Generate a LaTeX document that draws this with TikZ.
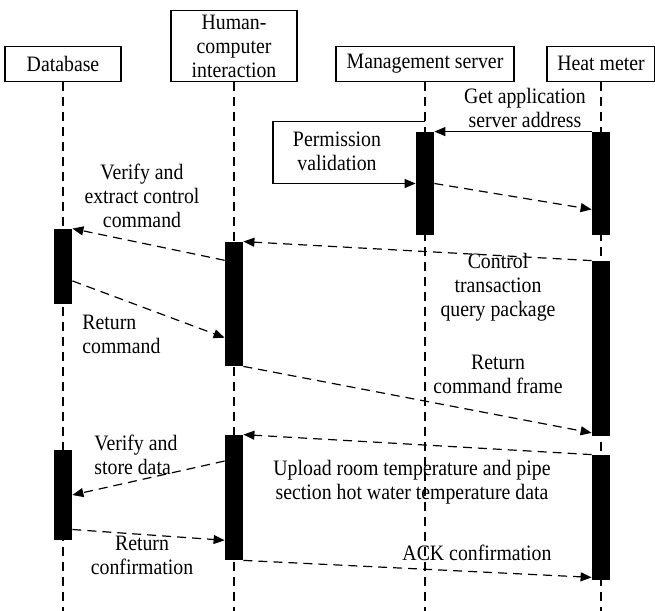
\documentclass[tikz,border=0pt]{standalone}
\usepackage{fontspec}
\setmainfont{Liberation Serif}[FakeStretch=0.9]
\usetikzlibrary{arrows.meta, positioning, calc, fit}

\begin{document}
\begin{tikzpicture}[
    x=0.5pt, y=-0.5pt,
    % ── Node styles ──────────────────────────────────────────────────────
    head/.style={
        draw, line width=0.6pt, align=center, inner sep=2pt,
        minimum height=17.5pt, anchor=south,
        font=\fontsize{11}{12}\selectfont
    },
    actbar/.style={
        fill=black, draw=none, inner sep=0pt
    },
    msgtext/.style={
        align=center, inner sep=0pt,
        font=\fontsize{11}{12}\selectfont
    },
    % ── Line styles ──────────────────────────────────────────────────────
    lifeline/.style={
        line width=0.6pt, dash pattern=on 4.5pt off 3pt
    },
    msg/.style={
        -{Triangle[length=5.5pt, width=4.5pt]}, line width=0.6pt
    },
    dmsg/.style={
        msg, dash pattern=on 4.5pt off 3pt
    }
]
\useasboundingbox (0,0) rectangle (655,611);

% ═══════════════════════════════════════════════════════════════════════════
% Header boxes and lifelines
% ═══════════════════════════════════════════════════════════════════════════
\node[head, minimum width=58pt] (db) at (63,82) {Database};
\node[head, minimum width=63pt] (hci) at (234,82) {Human-\\computer\\interaction};
\node[head, minimum width=89pt] (ms) at (425,82) {Management server};
\node[head, minimum width=54pt] (hm) at (601,82) {Heat meter};

\coordinate (bottom) at (0,611);
\draw[lifeline] (db.south) -- (db.south |- bottom);
\draw[lifeline] (hci.south) -- (hci.south |- bottom);
\draw[lifeline] (ms.south) -- (ms.south |- bottom);
\draw[lifeline] (hm.south) -- (hm.south |- bottom);

% ═══════════════════════════════════════════════════════════════════════════
% Activation bars
% ═══════════════════════════════════════════════════════════════════════════
\node[actbar, fit={(416,132) (434,235)}] (ms1) {};
\node[actbar, fit={(592,132) (610,235)}] (hm1) {};

\node[actbar, fit={(54,229) (72,304)}] (db1) {};
\node[actbar, fit={(225,242) (243,366)}] (hci1) {};
\node[actbar, fit={(592,261) (610,436)}] (hm2) {};

\node[actbar, fit={(54,450) (72,540)}] (db2) {};
\node[actbar, fit={(225,435) (243,560)}] (hci2) {};
\node[actbar, fit={(592,455) (610,580)}] (hm3) {};

% ═══════════════════════════════════════════════════════════════════════════
% Messages
% ═══════════════════════════════════════════════════════════════════════════
\draw[msg] (hm1.north west) -- (ms1.north east);
\node[msgtext] (getaddr) at (525,108) {Get application\\server address};

\draw[msg] ($(ms1.north)+(0,-10)$) -- ++(-152,0)
    |- ($(ms1.north west)!0.5!(ms1.south west)$);
\node[msgtext] (perm) at (337,151) {Permission\\validation};

\draw[dmsg] (ms1.east) -- ($(hm1.north west)!0.75!(hm1.south west)$);

% Control transaction
\draw[dmsg] (hm2.north west) -- (hci1.north east);
\node[msgtext] (ctrl) at (498,287) {Control\\transaction\\query package};

\draw[dmsg] ($(hci1.north west)!0.15!(hci1.south west)$) -- (db1.north east);
\node[msgtext] (verify) at (142,196) {Verify and\\extract control\\command};

\draw[dmsg] ($(db1.north east)!0.69!(db1.south east)$)
    -- ($(hci1.north west)!0.77!(hci1.south west)$);
\node[msgtext, anchor=west, align=left] (retcmd) at (82,334) {Return\\command};

\draw[dmsg] (hci1.south east) -- ($(hm2.north west)!0.98!(hm2.south west)$);
\node[msgtext] (retframe) at (498,374) {Return\\command frame};

% Upload data
\draw[dmsg] (hm3.north west) -- (hci2.north east);
\node[msgtext] (upload) at (412,482)
    {Upload room temperature and pipe\\section hot water temperature data};

\draw[dmsg] ($(hci2.north west)!0.21!(hci2.south west)$) -- (db2.east);
\node[msgtext, anchor=west, align=left] (store) at (94,455) {Verify and\\store data};

\draw[dmsg] ($(db2.north east)!0.88!(db2.south east)$)
    -- ($(hci2.north west)!0.84!(hci2.south west)$);
\node[msgtext] (retconf) at (142,555) {Return\\confirmation};

\draw[dmsg] (hci2.south east) -- ($(hm3.north west)!0.976!(hm3.south west)$);
\node[msgtext] (ack) at (477,553) {ACK confirmation};

\end{tikzpicture}
\end{document}
